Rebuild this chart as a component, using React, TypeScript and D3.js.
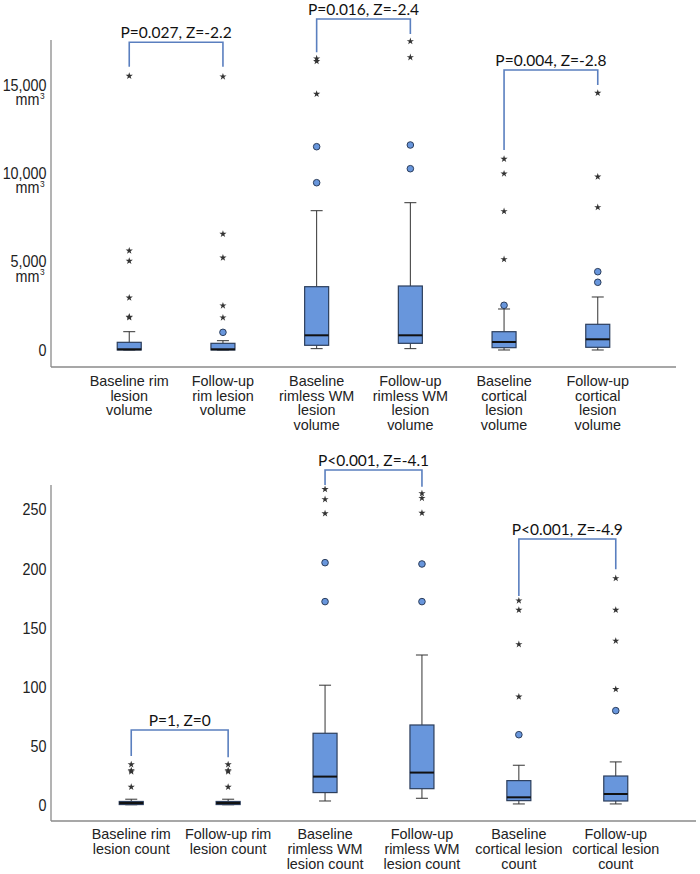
import React from 'react';
import * as d3 from 'd3';

// ---------- Volume panel (mm³) ----------
const volLabels = [
  ['Baseline rim', 'lesion', 'volume'],
  ['Follow-up', 'rim lesion', 'volume'],
  ['Baseline', 'rimless WM', 'lesion', 'volume'],
  ['Follow-up', 'rimless WM', 'lesion', 'volume'],
  ['Baseline', 'cortical', 'lesion', 'volume'],
  ['Follow-up', 'cortical', 'lesion', 'volume'],
];
const volQ1 = [0, 0, 266, 378, 132, 153];
const volMedian = [40, 40, 832, 832, 453, 606];
const volQ3 = [435, 378, 3585, 3624, 1036, 1455];
const volWhiskerLow = [0, 0, 76, 76, 0, 0];
const volWhiskerHigh = [1036, 527, 7888, 8341, 2322, 3001];
const volOutliers = [[], [1000], [11512, 9473], [11608, 10266], [2531], [4434, 3833]];
const volExtremes = [
  [15515, 5623, 5040, 2962, 1880, 1840],
  [15477, 6568, 5227, 2510, 1831],
  [16500, 16350, 14496],
  [17480, 16573],
  [10815, 9984, 7854, 5136],
  [14553, 9813, 8080],
];
const volTicks = [0, 5000, 10000, 15000];
const volBrackets = [
  { label: 'P=0.027, Z=-2.2', a: 0, b: 1, top: 17423, dropA: 16042, dropB: 16042 },
  { label: 'P=0.016, Z=-2.4', a: 2, b: 3, top: 18743, dropA: 16857, dropB: 17894 },
  { label: 'P=0.004, Z=-2.8', a: 4, b: 5, top: 15855, dropA: 11325, dropB: 15006 },
];

// ---------- Count panel ----------
const cntLabels = [
  ['Baseline rim', 'lesion count'],
  ['Follow-up rim', 'lesion count'],
  ['Baseline', 'rimless WM', 'lesion count'],
  ['Follow-up', 'rimless WM', 'lesion count'],
  ['Baseline', 'cortical lesion', 'count'],
  ['Follow-up', 'cortical lesion', 'count'],
];
const cntQ1 = [1.2, 1.2, 11.3, 14.6, 4.5, 4.2];
const cntMedian = [2.5, 2.5, 24.8, 28.2, 7.3, 10.1];
const cntQ3 = [3.8, 3.8, 61.4, 68.4, 21.4, 25.3];
const cntWhiskerLow = [1, 1, 4.2, 6.5, 1.7, 1.7];
const cntWhiskerHigh = [5.7, 5.7, 102, 127.5, 34.4, 37.2];
const cntOutliers = [[], [], [205.5, 172.6], [204.4, 172.6], [60.2], [80.5]];
const cntExtremes = [
  [35, 30, 29, 16],
  [35, 30, 29, 16],
  [267.5, 259, 247],
  [264, 260, 247.5],
  [173.4, 165.5, 136.5, 92.3],
  [192.3, 165.5, 139.4, 98.6],
];
const cntTicks = [0, 50, 100, 150, 200, 250];
const cntBrackets = [
  { label: 'P=1, Z=0', a: 0, b: 1, top: 64.2, dropA: 42.2, dropB: 41.1 },
  { label: 'P<0.001, Z=-4.1', a: 2, b: 3, top: 283.8, dropA: 271.1, dropB: 269.7 },
  { label: 'P<0.001, Z=-4.9', a: 4, b: 5, top: 225.5, dropA: 177.4, dropB: 199.9 },
];

const BOX_FILL = '#6896dc';
const BRACKET = '#5a7fbf';
const AXIS = '#8a8a8a';
const SANS = 'Liberation Sans, Arial, sans-serif';
const ANNOT = 'Lato, Open Sans, sans-serif';

type PanelProps = {
  labels: string[][];
  q1: number[]; med: number[]; q3: number[]; wl: number[]; wh: number[];
  outliers: number[][]; extremes: number[][];
  ticks: number[]; tickFmt: (v: number) => string; unit: boolean;
  brackets: { label: string; a: number; b: number; top: number; dropA: number; dropB: number }[];
  domain: [number, number]; yRange: [number, number]; xRange: [number, number]; padding: number;
  labelY: number; labelStep: number;
};

const starPath = d3.symbol(d3.symbolStar, 16)() as string;

function Panel(p: PanelProps) {
  const idx = p.labels.map((_, i) => i);
  const x = d3.scalePoint<number>().domain(idx).range(p.xRange).padding(p.padding);
  const y = d3.scaleLinear().domain(p.domain).range(p.yRange);
  const bw = 24;
  const cap = 12;
  const [x0, x1] = p.xRange;
  const [yb, yt] = p.yRange;
  return (
    <g>
      {/* axes */}
      <line x1={x0} x2={x0} y1={yt} y2={yb} stroke={AXIS} strokeWidth={1.3} />
      <line x1={x0} x2={x1} y1={yb} y2={yb} stroke={AXIS} strokeWidth={1.3} />
      {p.ticks.map((t) => (
        <g key={t} transform={`translate(46.5,${y(t)}) scale(0.88,1)`}>
          <text textAnchor="end" fontFamily={SANS} fontSize={16.3} fill="#222">
            <tspan x={0} y={5.5}>{p.tickFmt(t)}</tspan>
            {p.unit && t !== 0 && (
              <>
                <tspan x={-8} y={20}>mm</tspan>
                <tspan x={-2} y={13.5} fontSize={9.5}>3</tspan>
              </>
            )}
          </text>
        </g>
      ))}
      {/* category labels */}
      {p.labels.map((lines, i) => (
        <text key={i} textAnchor="middle" fontFamily={SANS} fontSize={14.4} fill="#222">
          {lines.map((l, j) => (
            <tspan key={j} x={x(i)!} y={p.labelY + j * p.labelStep + 5.2}>{l}</tspan>
          ))}
        </text>
      ))}
      {/* boxes */}
      {idx.map((i) => {
        const cx = x(i)!;
        return (
          <g key={i}>
            <line x1={cx} x2={cx} y1={y(p.q3[i])} y2={y(p.wh[i])} stroke="#333" strokeWidth={1} />
            <line x1={cx} x2={cx} y1={y(p.q1[i])} y2={y(p.wl[i])} stroke="#333" strokeWidth={1} />
            <line x1={cx - cap / 2} x2={cx + cap / 2} y1={y(p.wh[i])} y2={y(p.wh[i])} stroke="#333" strokeWidth={1} />
            <line x1={cx - cap / 2} x2={cx + cap / 2} y1={y(p.wl[i])} y2={y(p.wl[i])} stroke="#333" strokeWidth={1} />
            <rect x={cx - bw / 2} y={y(p.q3[i])} width={bw} height={Math.max(0, y(p.q1[i]) - y(p.q3[i]))}
              fill={BOX_FILL} stroke="#2c3e5c" strokeWidth={1.2} />
            <line x1={cx - bw / 2} x2={cx + bw / 2} y1={y(p.med[i])} y2={y(p.med[i])} stroke="#111" strokeWidth={2} />
            {p.outliers[i].map((v, k) => (
              <circle key={k} cx={cx} cy={y(v)} r={3.3} fill={BOX_FILL} stroke="#2c3e5c" strokeWidth={1} />
            ))}
            {p.extremes[i].map((v, k) => (
              <path key={k} d={starPath} transform={`translate(${cx},${y(v)})`} fill="#333" />
            ))}
          </g>
        );
      })}
      {/* brackets */}
      {p.brackets.map((b, k) => {
        const xa = x(b.a)!;
        const xb = x(b.b)!;
        const yt2 = y(b.top);
        return (
          <g key={k}>
            <path d={`M${xa},${y(b.dropA)}V${yt2}H${xb}V${y(b.dropB)}`} fill="none" stroke={BRACKET} strokeWidth={1.6} />
            <text x={(xa + xb) / 2} y={yt2 - 4} textAnchor="middle" fontFamily={ANNOT} fontSize={15.5} fill="#111">
              {b.label}
            </text>
          </g>
        );
      })}
    </g>
  );
}

export default function App() {
  const fmt = d3.format(',');
  return (
    <svg width={700} height={874} style={{ position: 'absolute', left: 0, top: 0, background: '#fff' }}>
      <rect width={700} height={874} fill="#fff" />
      <Panel
        labels={volLabels} q1={volQ1} med={volMedian} q3={volQ3} wl={volWhiskerLow} wh={volWhiskerHigh}
        outliers={volOutliers} extremes={volExtremes} ticks={volTicks} tickFmt={(v) => fmt(v)} unit={true}
        brackets={volBrackets} domain={[-963, 17554]} yRange={[367, 40]} xRange={[51, 676]} padding={0.835}
        labelY={381} labelStep={14.5}
      />
      <Panel
        labels={cntLabels} q1={cntQ1} med={cntMedian} q3={cntQ3} wl={cntWhiskerLow} wh={cntWhiskerHigh}
        outliers={cntOutliers} extremes={cntExtremes} ticks={cntTicks} tickFmt={(v) => String(v)} unit={false}
        brackets={cntBrackets} domain={[-12.7, 271.1]} yRange={[821, 485]} xRange={[51, 696]} padding={0.828}
        labelY={834} labelStep={15}
      />
    </svg>
  );
}
